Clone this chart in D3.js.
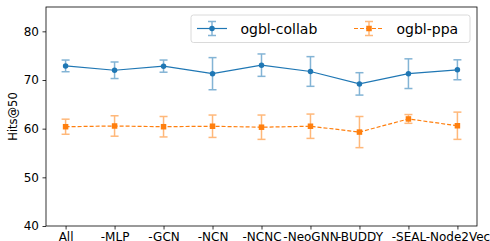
<!DOCTYPE html>
<html>
<head>
<meta charset="utf-8">
<script src="https://cdn.jsdelivr.net/npm/d3@7"></script>
<style>
  body { margin: 0; background: #fff; }
  text { font-family: "DejaVu Sans", sans-serif; }
</style>
</head>
<body>
<script>
// data
var categories = ["All", "-MLP", "-GCN", "-NCN", "-NCNC", "-NeoGNN", "-BUDDY", "-SEAL", "-Node2Vec"];
var collabMean = [72.9, 72.0, 72.85, 71.3, 73.05, 71.75, 69.2, 71.3, 72.1];
var collabStd  = [1.2, 1.7, 1.25, 3.3, 2.3, 3.05, 2.3, 3.05, 2.05];
var ppaMean = [60.4, 60.55, 60.4, 60.5, 60.3, 60.5, 59.3, 62.0, 60.6];
var ppaStd  = [1.55, 2.1, 2.1, 2.3, 2.5, 2.5, 3.2, 0.9, 2.8];
var yTicks = [40, 50, 60, 70, 80];

var series = [
    {name: "ogbl-collab", mean: collabMean, std: collabStd, color: "#1f77b4", marker: "circle", dash: null},
    {name: "ogbl-ppa", mean: ppaMean, std: ppaStd, color: "#ff7f0e", marker: "square", dash: "4,2"}
];

// set up variables
var canvasWidth = 490, canvasHeight = 241,
    plotLeft = 46, plotRight = 477, plotTop = 7, plotBottom = 226;

var svg = d3.select("body")
    .append("svg")
        .attr("width", canvasWidth)
        .attr("height", canvasHeight);

var x = d3.scaleLinear()
    .domain([-0.4, categories.length - 1 + 0.4])
    .range([plotLeft, plotRight]);
var y = d3.scaleLinear()
    .domain([40, 85])
    .range([plotBottom, plotTop]);

// axes
svg.append("g")
    .attr("transform", "translate(0," + plotBottom + ")")
    .call(d3.axisBottom(x)
        .tickValues(d3.range(categories.length))
        .tickFormat(function(i) { return categories[i]; })
        .tickSize(3.5).tickPadding(2.5))
    .call(function(g) {
        g.select(".domain").remove();
        g.selectAll("text").attr("font-size", 12).attr("fill", "#000");
        g.selectAll("line").attr("stroke", "#000").attr("stroke-width", 0.8);
    });

svg.append("g")
    .attr("transform", "translate(" + plotLeft + ",0)")
    .call(d3.axisLeft(y)
        .tickValues(yTicks)
        .tickSize(3.5).tickPadding(3.5))
    .call(function(g) {
        g.select(".domain").remove();
        g.selectAll("text").attr("font-size", 12).attr("fill", "#000");
        g.selectAll("line").attr("stroke", "#000").attr("stroke-width", 0.8);
    });

svg.append("text")
    .attr("transform", "translate(17," + ((plotTop + plotBottom) / 2) + ") rotate(-90)")
    .attr("text-anchor", "middle")
    .attr("font-size", 11.5)
    .text("Hits@50");

// frame
svg.append("rect")
    .attr("x", plotLeft).attr("y", plotTop)
    .attr("width", plotRight - plotLeft).attr("height", plotBottom - plotTop)
    .attr("fill", "none").attr("stroke", "#000").attr("stroke-width", 0.8);

function drawMarker(g, s, cx, cy, size) {
    if (s.marker === "circle") {
        g.append("circle").attr("cx", cx).attr("cy", cy).attr("r", size / 2)
            .attr("fill", s.color);
    } else {
        g.append("rect").attr("x", cx - size / 2).attr("y", cy - size / 2)
            .attr("width", size).attr("height", size).attr("fill", s.color);
    }
}

var line = d3.line()
    .x(function(d, i) { return x(i); })
    .y(function(d) { return y(d); });

series.forEach(function(s) {
    var g = svg.append("g");
    // error bars
    s.mean.forEach(function(m, i) {
        var eb = g.append("g").attr("stroke", s.color).attr("stroke-width", 1.5).attr("opacity", 0.55);
        eb.append("line").attr("x1", x(i)).attr("x2", x(i))
            .attr("y1", y(m - s.std[i])).attr("y2", y(m + s.std[i]));
        [m - s.std[i], m + s.std[i]].forEach(function(v) {
            eb.append("line").attr("x1", x(i) - 4).attr("x2", x(i) + 4)
                .attr("y1", y(v)).attr("y2", y(v));
        });
    });
    g.append("path")
        .datum(s.mean)
        .attr("d", line)
        .attr("fill", "none")
        .attr("stroke", s.color)
        .attr("stroke-width", 1.2)
        .attr("stroke-dasharray", s.dash);
    s.mean.forEach(function(m, i) {
        drawMarker(g, s, x(i), y(m), 5.5);
    });
});

// legend
var lg = svg.append("g");
lg.append("rect")
    .attr("x", 191).attr("y", 15).attr("width", 279).attr("height", 27.5)
    .attr("rx", 2.5)
    .attr("fill", "#fff").attr("fill-opacity", 0.8)
    .attr("stroke", "#d0d0d0").attr("stroke-width", 0.8);

var legendPos = [{hx: 197, tx: 240.5}, {hx: 354, tx: 396.5}];
series.forEach(function(s, k) {
    var p = legendPos[k], cy = 28.5, cx = p.hx + 15;
    var item = lg.append("g");
    item.append("line").attr("x1", p.hx).attr("x2", p.hx + 30)
        .attr("y1", cy).attr("y2", cy)
        .attr("stroke", s.color).attr("stroke-width", 1.2)
        .attr("stroke-dasharray", s.dash);
    var eb = item.append("g").attr("stroke", s.color).attr("stroke-width", 1.5).attr("opacity", 0.55);
    eb.append("line").attr("x1", cx).attr("x2", cx).attr("y1", cy - 7).attr("y2", cy + 7);
    eb.append("line").attr("x1", cx - 4).attr("x2", cx + 4).attr("y1", cy - 7).attr("y2", cy - 7);
    eb.append("line").attr("x1", cx - 4).attr("x2", cx + 4).attr("y1", cy + 7).attr("y2", cy + 7);
    drawMarker(item, s, cx, cy, 5.5);
    item.append("text")
        .attr("x", p.tx).attr("y", cy + 5)
        .attr("font-size", 14)
        .text(s.name);
});
</script>
</body>
</html>
